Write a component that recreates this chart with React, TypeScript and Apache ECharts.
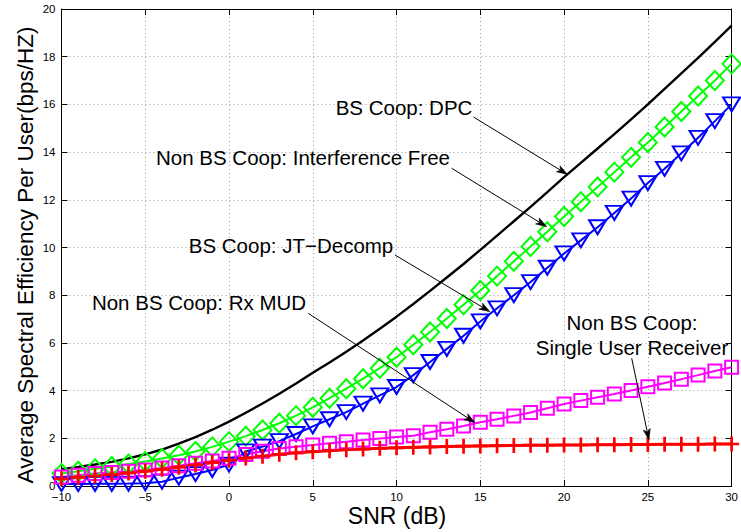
import React, { useEffect, useRef } from "react";
import * as echarts from "echarts";

// SNR (dB) sample points
const snr = [
  -10, -9, -8, -7, -6, -5, -4, -3, -2, -1, 0, 1, 2, 3, 4, 5, 6, 7, 8, 9, 10,
  11, 12, 13, 14, 15, 16, 17, 18, 19, 20, 21, 22, 23, 24, 25, 26, 27, 28, 29, 30,
];

// BS Coop: DPC (black, no markers)
const dpc = [
  0.71, 0.8, 0.9, 1.01, 1.16, 1.33, 1.53, 1.78, 2.05, 2.36, 2.7, 3.07, 3.46,
  3.87, 4.3, 4.75, 5.18, 5.63, 6.1, 6.59, 7.1, 7.63, 8.18, 8.74, 9.31, 9.9,
  10.5, 11.1, 11.7, 12.32, 12.95, 13.55, 14.15, 14.75, 15.37, 16.0, 16.65,
  17.3, 17.95, 18.62, 19.3,
];

// Non BS Coop: Interference Free (green diamonds)
const interferenceFree = [
  0.52, 0.62, 0.72, 0.82, 0.92, 1.03, 1.15, 1.29, 1.45, 1.64, 1.86, 2.09, 2.35,
  2.63, 2.95, 3.3, 3.68, 4.08, 4.5, 4.94, 5.4, 5.92, 6.46, 7.02, 7.6, 8.2, 8.8,
  9.42, 10.04, 10.66, 11.3, 11.92, 12.54, 13.16, 13.78, 14.4, 15.05, 15.7,
  16.35, 17.0, 17.7,
];

// BS Coop: JT-Decomp (blue down triangles)
const jtDecomp = [
  0.08, 0.08, 0.09, 0.09, 0.1, 0.12, 0.18, 0.35, 0.5, 0.67, 0.9, 1.45, 1.65,
  1.88, 2.18, 2.5, 2.8, 3.1, 3.45, 3.8, 4.15, 4.65, 5.2, 5.75, 6.3, 6.9, 7.45,
  8.0, 8.55, 9.15, 9.75, 10.3, 10.85, 11.45, 12.05, 12.7, 13.3, 13.95, 14.6,
  15.3, 16.0,
];

// Non BS Coop: Rx MUD (magenta squares)
const rxMud = [
  0.38, 0.45, 0.52, 0.57, 0.62, 0.67, 0.75, 0.85, 0.95, 1.05, 1.16, 1.32, 1.46,
  1.57, 1.65, 1.72, 1.79, 1.86, 1.93, 1.99, 2.05, 2.11, 2.25, 2.38, 2.52, 2.67,
  2.8, 2.94, 3.08, 3.26, 3.44, 3.58, 3.72, 3.86, 4.0, 4.16, 4.32, 4.48, 4.65,
  4.82, 4.98,
];

// Non BS Coop: Single User Receiver (red plus)
const singleUser = [
  0.3, 0.36, 0.42, 0.48, 0.55, 0.62, 0.7, 0.79, 0.88, 0.98, 1.08, 1.17, 1.25,
  1.33, 1.39, 1.44, 1.48, 1.52, 1.55, 1.58, 1.6, 1.62, 1.64, 1.66, 1.67, 1.68,
  1.69, 1.7, 1.71, 1.71, 1.72, 1.72, 1.73, 1.73, 1.74, 1.74, 1.75, 1.75, 1.75,
  1.76, 1.76,
];

const xLabel = "SNR (dB)";
const yLabel = "Average Spectral Efficiency Per User(bps/HZ)";

// annotation texts
const annotationTexts = [
  ["BS Coop: DPC"],
  ["Non BS Coop: Interference Free"],
  ["BS Coop: JT\u2212Decomp"],
  ["Non BS Coop: Rx MUD"],
  ["Non BS Coop:", "Single User Receiver"],
];

// annotation layout (pixels): text centre, arrow start, arrow end
const annotationLayout = [
  { tx: 404, ty: 107, from: [473.5, 117], to: [567.5, 174.5] },
  { tx: 303, ty: 157, from: [451.7, 168.3], to: [546.7, 226.7] },
  { tx: 291, ty: 245, from: [395, 255], to: [490, 311.7] },
  { tx: 199, ty: 302, from: [308.3, 313.3], to: [475, 422.7] },
  { tx: 632, ty: 322, from: [631.7, 358.3], to: [649, 440] },
];

const FONT = "'Liberation Sans', Arial, sans-serif";

function pairs(vals: number[]) {
  return snr.map((x, i) => [x, vals[i]]);
}

function arrowGraphics(from: number[], to: number[]) {
  const dx = to[0] - from[0];
  const dy = to[1] - from[1];
  const len = Math.sqrt(dx * dx + dy * dy);
  const ux = dx / len;
  const uy = dy / len;
  const nx = -uy;
  const ny = ux;
  const L = 11;
  const W = 3.6;
  const bx = to[0] - L * ux;
  const by = to[1] - L * uy;
  const ix = to[0] - 0.75 * L * ux;
  const iy = to[1] - 0.75 * L * uy;
  return [
    {
      type: "line",
      shape: { x1: from[0], y1: from[1], x2: ix, y2: iy },
      style: { stroke: "#000", lineWidth: 1 },
      z: 100,
    },
    {
      type: "polygon",
      shape: {
        points: [
          [to[0], to[1]],
          [bx + W * nx, by + W * ny],
          [ix, iy],
          [bx - W * nx, by - W * ny],
        ],
      },
      style: { fill: "#000", stroke: "#000", lineWidth: 0.5 },
      z: 100,
    },
  ];
}

const plusPath = "path://M4.1,0 H5.9 V4.1 H10 V5.9 H5.9 V10 H4.1 V5.9 H0 V4.1 H4.1 Z";

export default function App() {
  const ref = useRef<HTMLDivElement>(null);

  useEffect(() => {
    if (!ref.current) return;
    const chart = echarts.init(ref.current, undefined, { renderer: "svg" });

    const graphics: any[] = [];
    annotationTexts.forEach((lines, k) => {
      const lay = annotationLayout[k];
      lines.forEach((t, j) => {
        graphics.push({
          type: "text",
          x: lay.tx,
          y: lay.ty + j * 25,
          z: 100,
          style: {
            text: t,
            fontSize: 20.5,
            fontFamily: FONT,
            fill: "#000",
            align: "center",
            verticalAlign: "middle",
          },
        });
      });
      graphics.push(...arrowGraphics(lay.from, lay.to));
    });
    graphics.push({
      type: "text",
      x: 397,
      y: 516,
      style: {
        text: xLabel,
        fontSize: 23,
        fontFamily: FONT,
        fill: "#000",
        align: "center",
        verticalAlign: "middle",
      },
    });
    graphics.push({
      type: "text",
      x: 25,
      y: 255,
      rotation: Math.PI / 2,
      style: {
        text: yLabel,
        fontSize: 22.5,
        fontFamily: FONT,
        fill: "#000",
        align: "center",
        verticalAlign: "middle",
      },
    });

    const minus = (v: number) => String(v).replace("-", "\u2212");

    const gridLine = {
      show: true,
      lineStyle: { color: "#999", width: 1, type: [1, 3] as any },
    };

    const option: any = {
      animation: false,
      backgroundColor: "#fff",
      grid: { left: 61.5, right: 7.5, top: 9, bottom: 46, containLabel: false },
      xAxis: [
        {
          type: "value",
          min: -10,
          max: 30,
          interval: 5,
          axisLine: { show: true, onZero: false, lineStyle: { color: "#000", width: 1 } },
          axisTick: { show: true, inside: true, length: 6, lineStyle: { color: "#000" } },
          axisLabel: {
            color: "#000",
            fontSize: 11.5,
            fontFamily: FONT,
            margin: 5,
            formatter: minus,
          },
          splitLine: gridLine,
        },
        {
          type: "value",
          position: "top",
          min: -10,
          max: 30,
          interval: 5,
          axisLine: { show: true, onZero: false, lineStyle: { color: "#000", width: 1 } },
          axisTick: { show: true, inside: true, length: 6, lineStyle: { color: "#000" } },
          axisLabel: { show: false },
          splitLine: { show: false },
        },
      ],
      yAxis: [
        {
          type: "value",
          min: 0,
          max: 20,
          interval: 2,
          axisLine: { show: true, onZero: false, lineStyle: { color: "#000", width: 1 } },
          axisTick: { show: true, inside: true, length: 6, lineStyle: { color: "#000" } },
          axisLabel: { color: "#000", fontSize: 11.5, fontFamily: FONT, margin: 6 },
          splitLine: gridLine,
        },
        {
          type: "value",
          position: "right",
          min: 0,
          max: 20,
          interval: 2,
          axisLine: { show: true, onZero: false, lineStyle: { color: "#000", width: 1 } },
          axisTick: { show: true, inside: true, length: 6, lineStyle: { color: "#000" } },
          axisLabel: { show: false },
          splitLine: { show: false },
        },
      ],
      series: [
        {
          name: "BS Coop: DPC",
          type: "line",
          data: pairs(dpc),
          showSymbol: false,
          symbol: "none",
          clip: false,
          lineStyle: { color: "#000", width: 2.4 },
          itemStyle: { color: "#000" },
        },
        {
          name: "Non BS Coop: Interference Free",
          type: "line",
          data: pairs(interferenceFree),
          symbol: "diamond",
          symbolSize: [18, 19],
          clip: false,
          lineStyle: { color: "#00ff00", width: 2 },
          itemStyle: { color: "rgba(0,0,0,0)", borderColor: "#00ff00", borderWidth: 2 },
        },
        {
          name: "BS Coop: JT-Decomp",
          type: "line",
          data: pairs(jtDecomp),
          symbol: "triangle",
          symbolRotate: 180,
          symbolSize: [17, 14],
          clip: false,
          lineStyle: { color: "#0000ff", width: 2 },
          itemStyle: { color: "rgba(0,0,0,0)", borderColor: "#0000ff", borderWidth: 2 },
        },
        {
          name: "Non BS Coop: Rx MUD",
          type: "line",
          data: pairs(rxMud),
          symbol: "rect",
          symbolSize: 13,
          clip: false,
          lineStyle: { color: "#ff00ff", width: 2 },
          itemStyle: { color: "rgba(0,0,0,0)", borderColor: "#ff00ff", borderWidth: 2 },
        },
        {
          name: "Non BS Coop: Single User Receiver",
          type: "line",
          data: pairs(singleUser),
          symbol: plusPath,
          symbolSize: 15,
          clip: false,
          lineStyle: { color: "#ff0000", width: 3 },
          itemStyle: { color: "#ff0000" },
        },
      ],
      graphic: graphics,
    };

    chart.setOption(option);
    return () => chart.dispose();
  }, []);

  return (
    <div
      ref={ref}
      style={{ position: "absolute", left: 0, top: 0, width: 741, height: 532, background: "#fff" }}
    />
  );
}
